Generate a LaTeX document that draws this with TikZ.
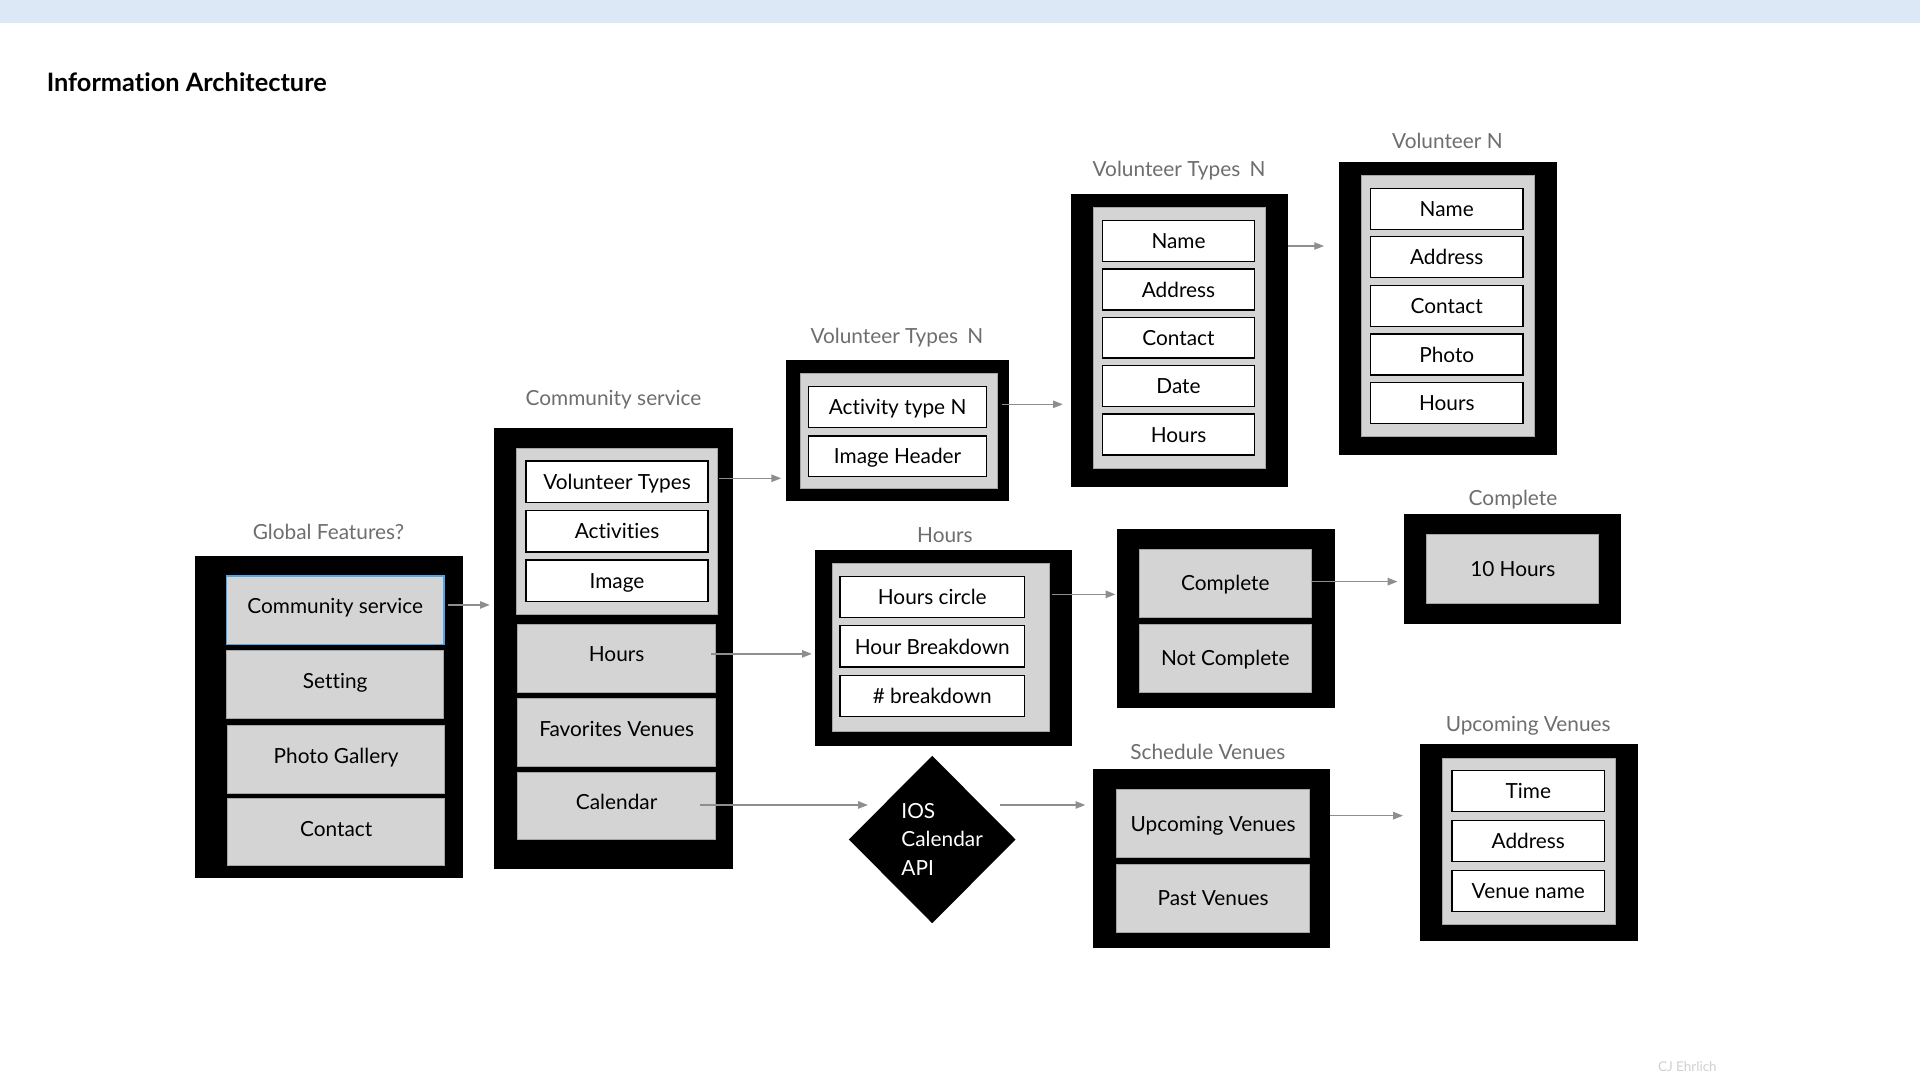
\documentclass[tikz,border=0pt]{standalone}
\usepackage{fontspec}
\usetikzlibrary{calc,shapes.geometric,arrows.meta}
\newfontfamily\latofam{Lato}[Ligatures=NoCommon]
\newcommand\myfont{\latofam\fontsize{17}{20}\selectfont}
\newcommand\mytitlefont{\latofam\bfseries\fontsize{20.7}{24}\selectfont}
\newcommand\mysmallfont{\latofam\fontsize{11}{13}\selectfont}
\definecolor{bandblue}{HTML}{DDE8F6}
\definecolor{boxgrey}{HTML}{D4D4D4}
\definecolor{edgegrey}{HTML}{A6A6A6}
\definecolor{labelgrey}{HTML}{6E6E6E}
\definecolor{arrowgrey}{HTML}{8E8E8E}
\definecolor{selblue}{HTML}{4DA6EA}
\definecolor{markgrey}{HTML}{D0D0D0}
\tikzset{
  outerbox/.style={fill=black, draw=none, anchor=north west, inner sep=0pt, outer sep=0pt},
  groupbox/.style={fill=boxgrey, draw=edgegrey, line width=0.8pt, anchor=north west, inner sep=0pt, outer sep=0pt},
  whitebox/.style={fill=white, draw=black, line width=1.2pt, anchor=north west, inner sep=0pt, outer sep=0pt, font=\myfont, text height=16pt, text depth=3.5pt},
  greybox/.style={fill=boxgrey, draw=edgegrey, line width=0.8pt, anchor=north west, inner sep=0pt, outer sep=0pt, font=\myfont, text height=16pt, text depth=3.5pt},
  raised/.style={text height=12pt, text depth=6pt},
  lbl/.style={font=\myfont, text=labelgrey, inner sep=0pt, anchor=base},
  arr/.style={draw=arrowgrey, line width=1.2pt, -{Triangle[length=8pt,width=6pt]}},
}
\begin{document}
\begin{tikzpicture}[x=1pt,y=-1pt]
\useasboundingbox (0,0) rectangle (1568,882);
\fill[white] (0,0) rectangle (1568,882);
\fill[bandblue] (0,0) rectangle (1568,18.5);
\node[font=\mytitlefont, anchor=base west, inner sep=0pt] (title) at (38,74.9) {Information Architecture};
\node[font=\mysmallfont, text=markgrey, anchor=base, inner sep=0pt] (mark) at (1378,875) {CJ Ehrlich};

% Global features
\node[lbl] (lgf) at (268.3,440.2) {Global Features?};
\node[outerbox, minimum width=219pt, minimum height=263pt] (gf) at (159.5,453.8) {};
\node[greybox, raised, draw=selblue, line width=1.4pt, minimum width=177.5pt, minimum height=56pt] (gf1) at (185,470.3) {Community service};
\node[greybox, raised, minimum width=177.5pt, minimum height=55.5pt] (gf2) at (185,531.5) {Setting};
\node[greybox, raised, minimum width=177pt, minimum height=55.5pt] (gf3) at (186,592.5) {Photo Gallery};
\node[greybox, raised, minimum width=177pt, minimum height=54.7pt] (gf4) at (186,652.5) {Contact};

% Community service
\node[lbl] (lcs) at (501,330.8) {Community service};
\node[outerbox, minimum width=195.1pt, minimum height=360.7pt] (cs) at (403.5,349.3) {};
\node[groupbox, minimum width=163.6pt, minimum height=135.6pt] (csg) at (422.1,366.1) {};
\node[whitebox, minimum width=148.6pt, minimum height=33.7pt] (csvt) at (429.6,376.5) {Volunteer Types};
\node[whitebox, minimum width=148.6pt, minimum height=34pt] (csact) at (429.6,416.8) {Activities};
\node[whitebox, minimum width=148.6pt, minimum height=33.8pt] (csimg) at (429.6,457.3) {Image};
\node[greybox, raised, minimum width=161.8pt, minimum height=55.8pt] (cshours) at (422.7,509.6) {Hours};
\node[greybox, raised, minimum width=161.8pt, minimum height=55.8pt] (csfav) at (422.7,570.3) {Favorites Venues};
\node[greybox, raised, minimum width=161.8pt, minimum height=54.7pt] (cscal) at (422.7,630.7) {Calendar};

% Volunteer types (small)
\node[lbl] (lsvt) at (732.5,280.4) {Volunteer Types\hspace{0.45em}N};
\node[outerbox, minimum width=182.3pt, minimum height=115pt] (svt) at (641.9,294) {};
\node[groupbox, minimum width=161.2pt, minimum height=94.1pt] (svtg) at (653.5,304.9) {};
\node[whitebox, minimum width=145.2pt, minimum height=33.2pt] (ataN) at (660.4,315.8) {Activity type N};
\node[whitebox, minimum width=145.2pt, minimum height=33.3pt] (aimg) at (660.4,356) {Image Header};

% Volunteer types (big)
\node[lbl] (lbvt) at (962.9,144.3) {Volunteer Types\hspace{0.45em}N};
\node[outerbox, minimum width=176.9pt, minimum height=239pt] (bvt) at (874.8,158.4) {};
\node[groupbox, minimum width=140.2pt, minimum height=213.2pt] (bvtg) at (893,169.3) {};
\node[whitebox, minimum width=124.3pt, minimum height=33.3pt] (bname) at (900.3,180.2) {Name};
\node[whitebox, minimum width=124.3pt, minimum height=33.3pt] (baddr) at (900.3,219.7) {Address};
\node[whitebox, minimum width=124.3pt, minimum height=33.3pt] (bcont) at (900.3,259.1) {Contact};
\node[whitebox, minimum width=124.3pt, minimum height=33.3pt] (bdate) at (900.3,298.6) {Date};
\node[whitebox, minimum width=124.3pt, minimum height=33.3pt] (bhours) at (900.3,338.1) {Hours};

% Volunteer N
\node[lbl] (lvn) at (1182.1,120.9) {Volunteer N};
\node[outerbox, minimum width=177.7pt, minimum height=239.3pt] (vn) at (1093.7,132.3) {};
\node[groupbox, minimum width=140.7pt, minimum height=213.1pt] (vng) at (1112.2,143.5) {};
\node[whitebox, minimum width=124.6pt, minimum height=33.5pt] (vname) at (1119.2,153.8) {Name};
\node[whitebox, minimum width=124.6pt, minimum height=33.5pt] (vaddr) at (1119.2,193.3) {Address};
\node[whitebox, minimum width=124.6pt, minimum height=33.5pt] (vcont) at (1119.2,233.3) {Contact};
\node[whitebox, minimum width=124.6pt, minimum height=33.5pt] (vphoto) at (1119.2,272.8) {Photo};
\node[whitebox, minimum width=124.6pt, minimum height=33.5pt] (vhours) at (1119.2,312.2) {Hours};

% Hours
\node[lbl] (lhrs) at (771.7,442.9) {Hours};
\node[outerbox, minimum width=209.7pt, minimum height=159.8pt] (hrs) at (665.8,449.2) {};
\node[groupbox, minimum width=177.4pt, minimum height=136.9pt] (hrsg) at (679.6,460.1) {};
\node[whitebox, minimum width=150.5pt, minimum height=33.2pt] (hc) at (686.1,470.9) {Hours circle};
\node[whitebox, minimum width=150.5pt, minimum height=33.7pt] (hb) at (686.1,511) {Hour Breakdown};
\node[whitebox, minimum width=150.5pt, minimum height=33.5pt] (hn) at (686.1,551.8) {\# breakdown};

% Complete / Not complete
\node[outerbox, minimum width=178.2pt, minimum height=146.2pt] (comp) at (912.2,432.3) {};
\node[greybox, minimum width=140.5pt, minimum height=55.5pt] (compc) at (930.4,448.6) {Complete};
\node[greybox, minimum width=140.5pt, minimum height=55.8pt] (compn) at (930.4,509.6) {Not Complete};

% 10 hours
\node[lbl] (lten) at (1235.6,413) {Complete};
\node[outerbox, minimum width=177.6pt, minimum height=89.6pt] (ten) at (1146.6,420) {};
\node[greybox, minimum width=140.6pt, minimum height=55.8pt] (tenh) at (1165.1,436.9) {10 Hours};

% Diamond
\node[diamond, fill=black, draw=none, inner sep=0pt, minimum width=136.2pt, minimum height=136.9pt] (dia) at (761.3,685.6) {};
\node[font=\latofam\fontsize{17}{23.5}\selectfont, text=white, align=left, anchor=west, inner sep=0pt] (diatxt) at (736,685.5) {IOS\\Calendar\\API};

% Schedule venues
\node[lbl] (lsch) at (986.4,620.4) {Schedule Venues};
\node[outerbox, minimum width=193.2pt, minimum height=146.5pt] (sch) at (892.7,628) {};
\node[greybox, minimum width=158.2pt, minimum height=55.6pt] (schu) at (911.6,644.6) {Upcoming Venues};
\node[greybox, minimum width=158.2pt, minimum height=55.8pt] (schp) at (911.6,705.6) {Past Venues};

% Upcoming venues
\node[lbl] (lup) at (1248,597) {Upcoming Venues};
\node[outerbox, minimum width=178pt, minimum height=160.3pt] (up) at (1159.7,607.9) {};
\node[groupbox, minimum width=141.3pt, minimum height=135.3pt] (upg) at (1178.3,619.3) {};
\node[whitebox, minimum width=124.4pt, minimum height=33.5pt] (uptime) at (1185.9,629.4) {Time};
\node[whitebox, minimum width=124.4pt, minimum height=33.5pt] (upaddr) at (1185.9,670.2) {Address};
\node[whitebox, minimum width=124.4pt, minimum height=33.5pt] (upvn) at (1185.9,711.1) {Venue name};

% Connectors
\draw[arr] ($(gf1.east)+(3.2,-4.25)$) -- ($(gf1.east -| cs.west)+(-3.5,-4.25)$);
\draw[arr] ($(csvt.east)+(9,-2.75)$) -- ($(csvt.east -| svt.west)+(-3.9,-2.75)$);
\draw[arr] ($(cshours.east)+(-3.9,-3.5)$) -- ($(cshours.east -| hrs.west)+(-2.8,-3.5)$);
\draw[arr] ($(cscal.east)+(-12.5,-0.65)$) -- ($(cscal.east -| dia.west)+(15.8,-0.65)$);
\draw[arr] ($(ataN.east)+(12.4,-2.2)$) -- ($(ataN.east -| bvt.west)+(-6.8,-2.2)$);
\draw[arr] ($(bvt.north east)+(0,42.5)$) -- ($(bvt.north east -| vn.west)+(-12.4,42.5)$);
\draw[arr] ($(hc.east -| hrsg.east)+(2.1,-2.1)$) -- ($(hc.east -| comp.west)+(-1.2,-2.1)$);
\draw[arr] ($(compc.east)+(0,-1.35)$) -- ($(compc.east -| ten.west)+(-5.3,-1.35)$);
\draw[arr] ($(dia.east)+(-12.6,-28.2)$) -- ($(dia.east -| sch.west)+(-6.3,-28.2)$);
\draw[arr] ($(sch.east)+(0,-35.15)$) -- ($(sch.east -| up.west)+(-13.9,-35.15)$);
\end{tikzpicture}
\end{document}
